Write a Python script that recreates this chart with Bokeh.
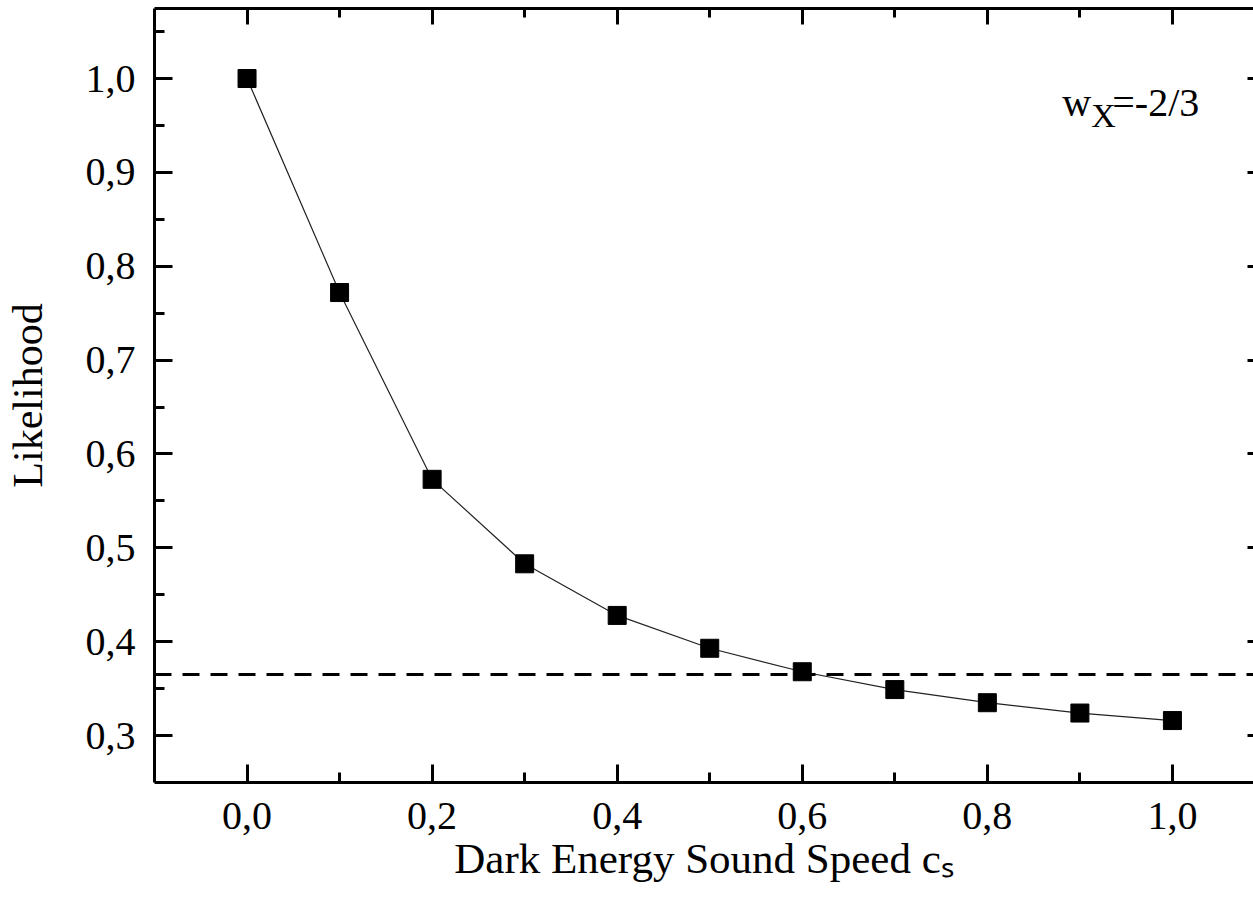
from bokeh.plotting import figure
from bokeh.models import Range1d, LinearAxis, FixedTicker, CustomJSTickFormatter, Span, Label
from bokeh.embed import file_html
from bokeh.resources import INLINE

# ---- data ----
cs = [0.0, 0.1, 0.2, 0.3, 0.4, 0.5, 0.6, 0.7, 0.8, 0.9, 1.0]
likelihood = [1.0, 0.772, 0.573, 0.483, 0.428, 0.393, 0.368, 0.349, 0.335, 0.324, 0.316]
threshold = 0.365
x_major = [0.0, 0.2, 0.4, 0.6, 0.8, 1.0]
x_minor = [0.1, 0.3, 0.5, 0.7, 0.9]
y_major = [0.3, 0.4, 0.5, 0.6, 0.7, 0.8, 0.9, 1.0]
y_minor = [0.35, 0.45, 0.55, 0.65, 0.75, 0.85, 0.95, 1.05]
x_title = "Dark Energy Sound Speed c\u209b"
y_title = "Likelihood"
annot_main = "w"
annot_sub = "X"
annot_rest = "=-2/3"

FONT = "Liberation Serif"

p = figure(width=1253, height=912, output_backend="svg", toolbar_location=None,
           x_range=Range1d(-0.1, 1.0876), y_range=Range1d(0.25, 1.0746),
           min_border_left=154, min_border_right=0, min_border_top=8, min_border_bottom=130,
           outline_line_color=None, background_fill_color="white", border_fill_color="white")
p.xgrid.visible = False
p.ygrid.visible = False

fmt = CustomJSTickFormatter(code="return tick.toFixed(1).replace('.', ',');")
blank = CustomJSTickFormatter(code="return '';")

def style(ax, major_in, minor_in):
    ax.major_tick_in = major_in
    ax.major_tick_out = 0
    ax.minor_tick_in = minor_in
    ax.minor_tick_out = 0
    ax.major_tick_line_width = 3
    ax.minor_tick_line_width = 3
    ax.major_tick_line_color = "black"
    ax.minor_tick_line_color = "black"
    ax.axis_line_width = 3
    ax.axis_line_color = "black"
    ax.major_label_text_font = FONT
    ax.major_label_text_font_size = "40px"
    ax.major_label_text_color = "black"
    ax.axis_label_text_font = FONT
    ax.axis_label_text_font_style = "normal"
    ax.axis_label_text_color = "black"

xa = p.xaxis[0]
xa.ticker = FixedTicker(ticks=x_major, minor_ticks=x_minor)
xa.formatter = fmt
style(xa, 18, 10)
xa.major_label_standoff = 20
xa.axis_label = x_title
xa.axis_label_text_font_size = "43px"
xa.axis_label_standoff = 3

ya = p.yaxis[0]
ya.ticker = FixedTicker(ticks=y_major, minor_ticks=y_minor)
ya.formatter = fmt
style(ya, 18, 10)
ya.major_label_standoff = 19
ya.axis_label = y_title
ya.axis_label_text_font_size = "42px"
ya.axis_label_standoff = 32

top = LinearAxis(ticker=FixedTicker(ticks=x_major, minor_ticks=x_minor), formatter=blank)
style(top, 16, 9)
top.major_label_standoff = 0
top.major_label_text_font_size = "0px"
p.add_layout(top, "above")

right = LinearAxis(ticker=FixedTicker(ticks=y_major, minor_ticks=[]), formatter=blank)
style(right, 6, 0)
right.axis_line_color = None
right.major_label_standoff = 0
right.major_label_text_font_size = "0px"
p.add_layout(right, "right")

p.add_layout(Span(location=threshold, dimension="width", line_color="black",
                  line_width=3, line_dash="17 11"))

p.line(cs, likelihood, line_color="#222222", line_width=1.2)
p.scatter(cs, likelihood, marker="square", size=18, fill_color="black", line_color="black")

p.add_layout(Label(x=0.881, y=0.974, text=annot_main, text_font=FONT, text_font_size="40px",
                   text_baseline="alphabetic", text_align="left", text_color="black"))
p.add_layout(Label(x=0.9124, y=0.9606, text=annot_sub, text_font=FONT, text_font_size="34px",
                   text_baseline="alphabetic", text_align="left", text_color="black"))
p.add_layout(Label(x=0.935, y=0.974, text=annot_rest, text_font=FONT, text_font_size="40px",
                   text_baseline="alphabetic", text_align="left", text_color="black"))

open("out.html", "w").write(file_html(p, INLINE))
